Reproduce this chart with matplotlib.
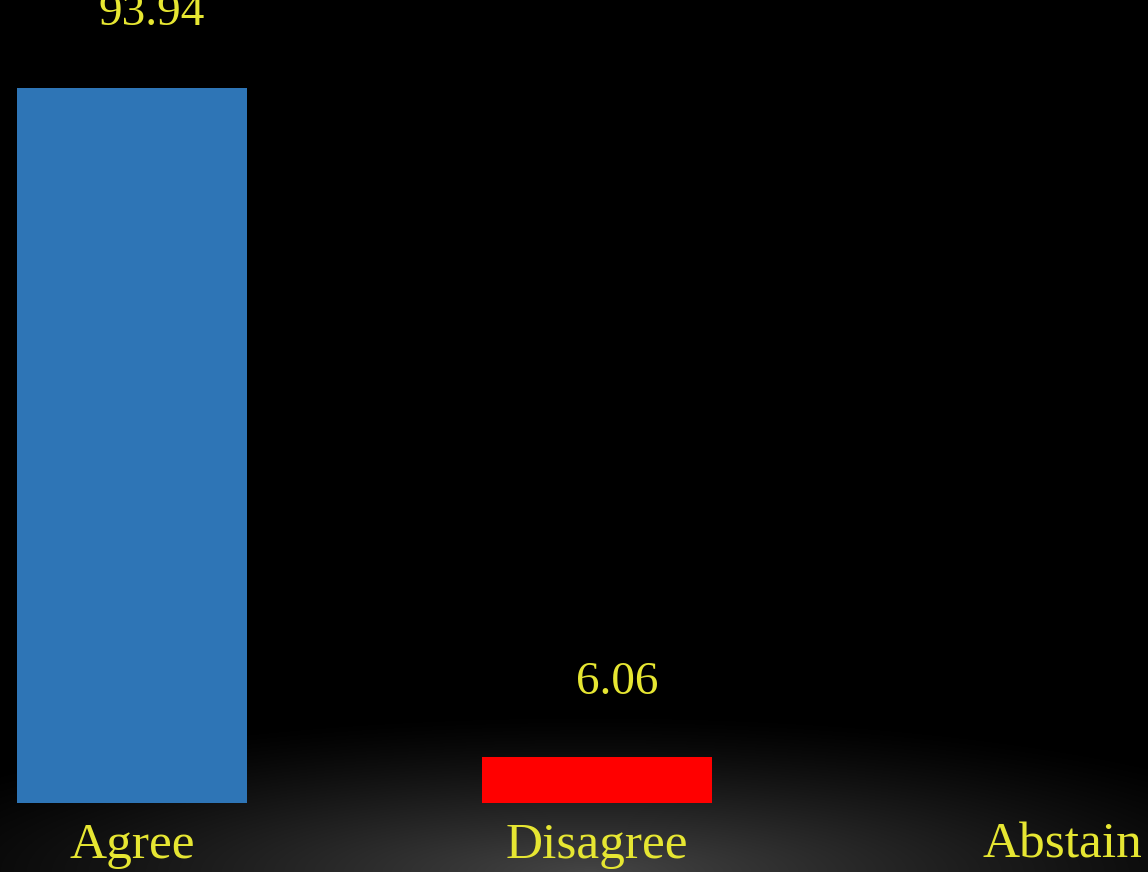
import numpy as np
import matplotlib.pyplot as plt

categories = ["Agree", "Disagree", "Abstain"]
values = [93.94, 6.06, 0.0]
bar_colors = ["#2E75B6", "#FF0000", "#7F7F7F"]
value_labels = ["93.94", "6.06", ""]

text_color = "#E6E632"
font = ["Liberation Serif", "DejaVu Serif"]

W, H = 1148, 872
fig = plt.figure(figsize=(W / 100, H / 100), dpi=100, facecolor="black")

# dark backdrop with a soft grey glow along the bottom edge
bg = fig.add_axes([0, 0, 1, 1], zorder=0)
xx, yy = np.meshgrid(np.arange(W), np.arange(H))
r = np.sqrt(((xx - 590) / 780.0) ** 2 + ((yy - H) / 160.0) ** 2)
glow = 0.27 * np.clip(1 - r, 0, 1) ** 1.3
bg.imshow(np.dstack([glow, glow, glow]), origin="upper", extent=(0, W, H, 0), aspect="auto")
bg.axis("off")

# plotting area: baseline sits 69 px above the bottom
px_per_unit = 7.611
base = 69 / H
ax = fig.add_axes([0, base, 1, 1 - base], zorder=1)
ax.patch.set_alpha(0)
spacing = 465
ax.set_xlim(-132 / spacing, (W - 132) / spacing)
ax.set_ylim(0, (H - 69) / px_per_unit)

x = np.arange(len(categories))
bars = ax.bar(x, values, width=230 / spacing, color=bar_colors)

for xi, v, lab in zip(x, values, value_labels):
    if lab:
        ax.annotate(lab, (xi, v), xytext=(20, 74), textcoords="offset pixels",
                    ha="center", va="center", color=text_color,
                    fontsize=34, family=font, annotation_clip=False)

ax.set_xticks(x)
ax.set_xticklabels(categories, color=text_color, fontsize=37, family=font)
ax.tick_params(axis="x", length=0, pad=14)
ax.set_yticks([])
for s in ax.spines.values():
    s.set_visible(False)

fig.savefig("out.png", dpi=100, facecolor="black")
